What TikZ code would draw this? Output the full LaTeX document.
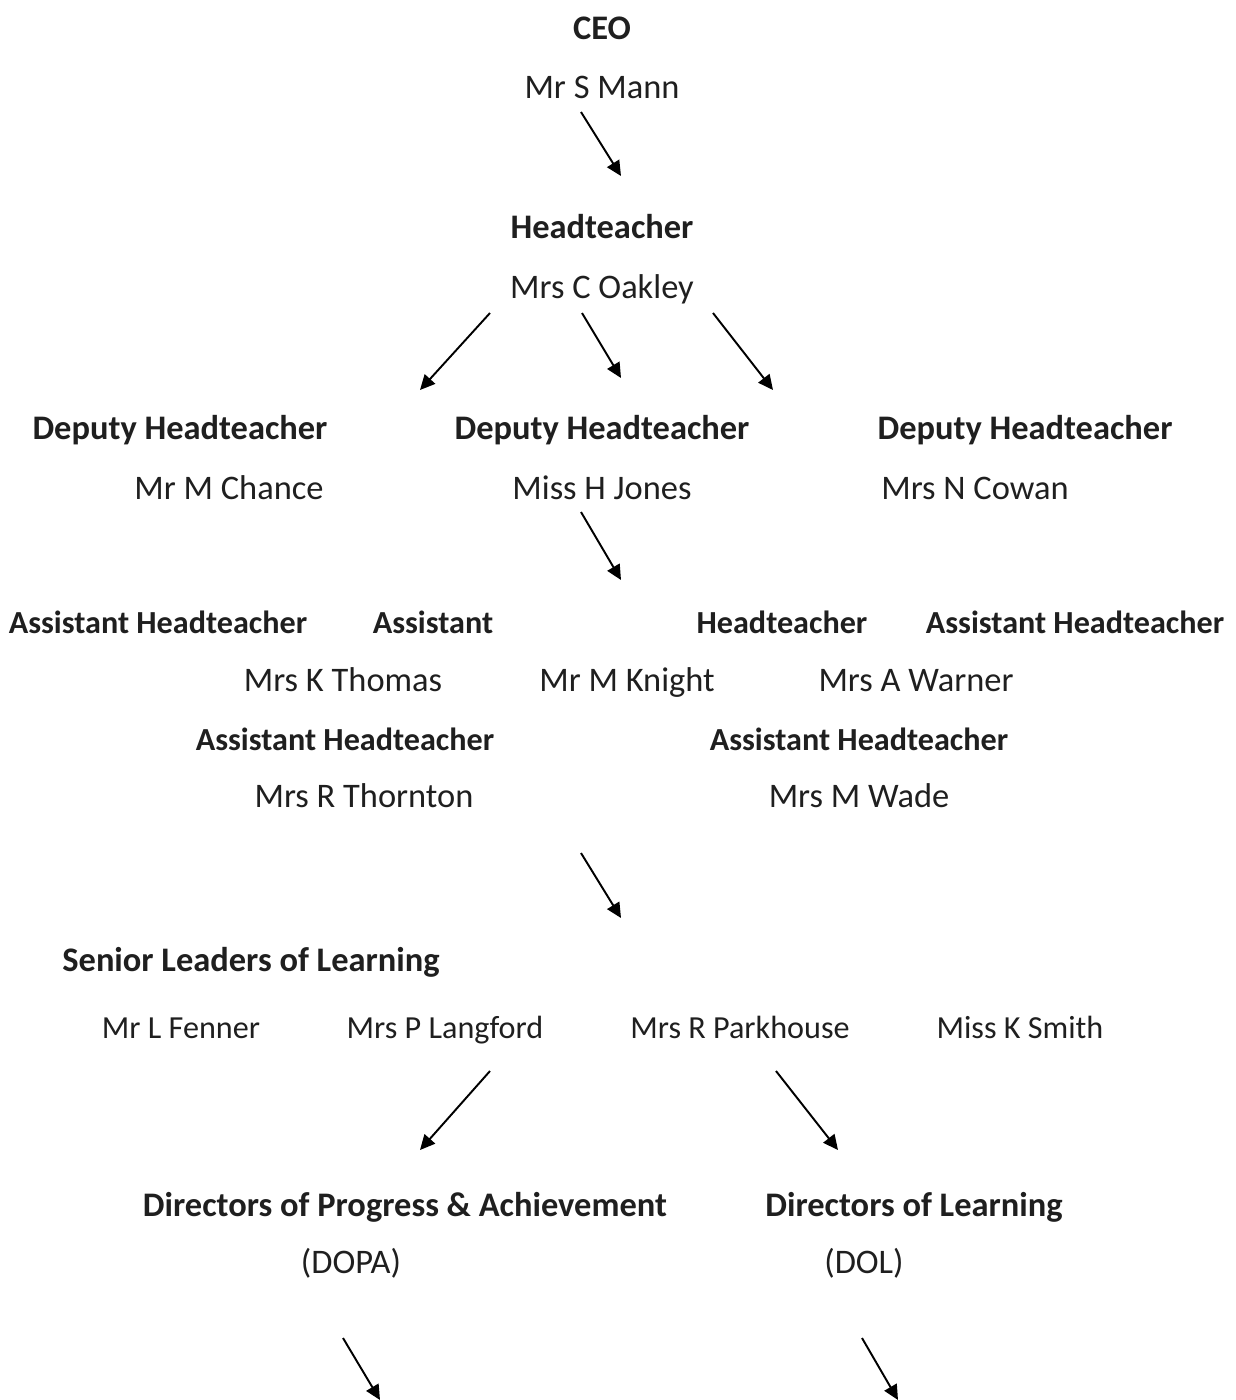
\documentclass[tikz,border=0pt]{standalone}
\usepackage{fontspec}
\setmainfont{Carlito}
\usetikzlibrary{arrows.meta}

\begin{document}
\begin{tikzpicture}[x=0.02cm, y=-0.02cm, >={Triangle[length=8.5pt, width=8pt]},
		role/.style={font=\fontsize{19.6}{22}\selectfont\bfseries, text=black!88, text height=0.62em, text depth=0.04em},
		asst/.style={role, font=\fontsize{18.3}{22}\selectfont\bfseries},
		person/.style={font=\fontsize{19.6}{22}\selectfont, text=black!88, text height=0.62em, text depth=0.04em},
		leader/.style={person, font=\fontsize{18.3}{22}\selectfont},
		link/.style={->, line width=1.1pt}]
		\useasboundingbox (0,0) rectangle (1235,1400);
		% top of the chart
		\node[role] (ceo) at (602,34) {CEO};
		\node[person] (mann) at (602,93) {Mr S Mann};
		\node[role] (head) at (602,233) {Headteacher};
		\node[person] (oakley) at (602,293) {Mrs C Oakley};
		% deputies
		\node[role] (dhA) at (180,434) {Deputy Headteacher};
		\node[role] (dhB) at (602,434) {Deputy Headteacher};
		\node[role] (dhC) at (1025,434) {Deputy Headteacher};
		\node[person] (chance) at (229,494) {Mr M Chance};
		\node[person] (jones) at (602,494) {Miss H Jones};
		\node[person] (cowan) at (975,494) {Mrs N Cowan};
		% assistants
		\node[asst] (ahA) at (158,628) {Assistant Headteacher};
		\node[asst] (ahB) at (433,628) {Assistant};
		\node[asst] (ahC) at (782,628) {Headteacher};
		\node[asst] (ahD) at (1075,628) {Assistant Headteacher};
		\node[person] (thomas) at (343,686) {Mrs K Thomas};
		\node[person] (knight) at (627,686) {Mr M Knight};
		\node[person] (warner) at (916,686) {Mrs A Warner};
		\node[asst] (ahE) at (345,745) {Assistant Headteacher};
		\node[asst] (ahF) at (859,745) {Assistant Headteacher};
		\node[person] (thornton) at (364,802) {Mrs R Thornton};
		\node[person] (wade) at (859,802) {Mrs M Wade};
		% senior leaders
		\node[role] (sll) at (251,966) {Senior Leaders of Learning};
		\node[leader] (fenner) at (181,1033) {Mr L Fenner};
		\node[leader] (langford) at (445,1033) {Mrs P Langford};
		\node[leader] (parkhouse) at (740,1033) {Mrs R Parkhouse};
		\node[leader] (smith) at (1020,1033) {Miss K Smith};
		% directors
		\node[role] (dopa) at (405,1211) {Directors of Progress \& Achievement};
		\node[role] (dol) at (914,1211) {Directors of Learning};
		\node[person] (dopaS) at (351,1268) {(DOPA)};
		\node[person] (dolS) at (864,1268) {(DOL)};
		% arrow ends
		\coordinate (a1) at (581,112);  \coordinate (b1) at (621,176);
		\coordinate (a2) at (490,313);  \coordinate (b2) at (420,390);
		\coordinate (a3) at (582,313);  \coordinate (b3) at (621,378);
		\coordinate (a4) at (713,313);  \coordinate (b4) at (773,390);
		\coordinate (a5) at (581,512);  \coordinate (b5) at (621,580);
		\coordinate (a6) at (581,853);  \coordinate (b6) at (621,918);
		\coordinate (a7) at (490,1071); \coordinate (b7) at (420,1150);
		\coordinate (a8) at (776,1071); \coordinate (b8) at (838,1150);
		\coordinate (a9) at (343,1338); \coordinate (b9) at (380,1400);
		\coordinate (a10) at (862,1338); \coordinate (b10) at (898,1400);
		\foreach \i in {1,...,10} {
			\draw[link] (a\i) -- (b\i);
		}
	\end{tikzpicture}
\end{document}
